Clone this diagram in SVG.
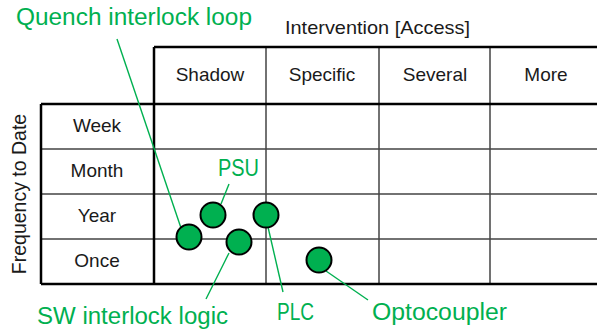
<svg xmlns="http://www.w3.org/2000/svg" width="597" height="329" viewBox="0 0 597 329">
  <style>
    .txt { font-family: "Liberation Sans", Arial, sans-serif; fill: #1a1a1a; }
    .hdr { font-size: 19px; text-anchor: middle; }
    .lbl { font-family: "Liberation Sans", Arial, sans-serif; font-size: 23px; fill: #00B050; }
    .thick { stroke: #000; stroke-width: 2.5; fill: none; }
    .thin { stroke: #444; stroke-width: 1.5; fill: none; }
    .lead { stroke: #00B050; stroke-width: 1.4; fill: none; }
    .dot { fill: #00B050; stroke: #000; stroke-width: 2; }
  </style>

  <!-- grid -->
  <g id="grid">
    <!-- inner lines -->
    <path class="thin" d="M266 47V284 M379 47V284 M490 47V284 M41 149H597 M41 194H597 M41 239H597"/>
    <!-- outer frame and axis dividers -->
    <path class="thick" d="M154 47H597 M41 104H597 M41 284H597 M41 104V284 M154 47V284"/>
  </g>

  <!-- axis titles -->
  <g id="axis-x">
    <text class="txt" x="285" y="34" font-size="19" textLength="185" lengthAdjust="spacingAndGlyphs">Intervention [Access]</text>
  </g>
  <g id="axis-y">
    <text class="txt" font-size="19.5" text-anchor="middle" transform="translate(26 194) rotate(-90)">Frequency to Date</text>
  </g>

  <!-- column headers -->
  <g id="columns">
    <text class="txt hdr" x="210" y="81">Shadow</text>
    <text class="txt hdr" x="322" y="81">Specific</text>
    <text class="txt hdr" x="435" y="81">Several</text>
    <text class="txt hdr" x="546" y="81">More</text>
  </g>

  <!-- row headers -->
  <g id="rows">
    <text class="txt hdr" x="97" y="132">Week</text>
    <text class="txt hdr" x="97" y="177">Month</text>
    <text class="txt hdr" x="97" y="222">Year</text>
    <text class="txt hdr" x="97" y="267">Once</text>
  </g>

  <!-- leader lines -->
  <g id="connectors">
    <line class="lead" x1="117" y1="39" x2="181" y2="228"/>
    <line class="lead" x1="229" y1="184" x2="221" y2="204"/>
    <line class="lead" x1="229" y1="253" x2="206" y2="299"/>
    <line class="lead" x1="268" y1="227" x2="283" y2="292"/>
    <line class="lead" x1="326" y1="271" x2="368" y2="300"/>
  </g>

  <!-- items -->
  <g id="quench-interlock-loop">
    <circle class="dot" cx="189" cy="237" r="12.5"/>
    <text class="lbl" x="16" y="25" textLength="236" lengthAdjust="spacingAndGlyphs">Quench interlock loop</text>
  </g>
  <g id="psu">
    <circle class="dot" cx="213" cy="215" r="12.5"/>
    <text class="lbl" x="218" y="176" textLength="41" lengthAdjust="spacingAndGlyphs">PSU</text>
  </g>
  <g id="sw-interlock-logic">
    <circle class="dot" cx="239" cy="242" r="12.5"/>
    <text class="lbl" x="37" y="324" textLength="191" lengthAdjust="spacingAndGlyphs">SW interlock logic</text>
  </g>
  <g id="plc">
    <circle class="dot" cx="266" cy="215" r="12.5"/>
    <text class="lbl" x="277" y="320" textLength="37" lengthAdjust="spacingAndGlyphs">PLC</text>
  </g>
  <g id="optocoupler">
    <circle class="dot" cx="319" cy="260" r="12.5"/>
    <text class="lbl" x="372" y="320" textLength="135" lengthAdjust="spacingAndGlyphs">Optocoupler</text>
  </g>
</svg>
